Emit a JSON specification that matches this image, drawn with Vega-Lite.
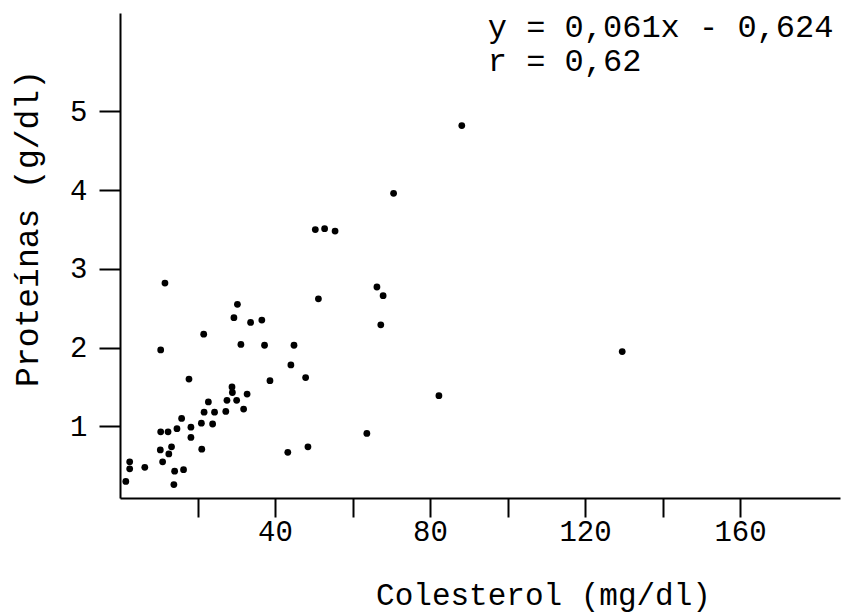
{
  "$schema": "https://vega.github.io/schema/vega-lite/v6.json",
  "width": 720,
  "height": 485,
  "autosize": {"type": "none"},
  "padding": {"left": 120, "top": 13, "right": 4, "bottom": 116},
  "background": "white",
  "config": {"view": {"stroke": null}, "font": "Liberation Mono"},
  "layer": [
    {
      "data": {
        "values": [
          {"colesterol": 11.6, "proteinas": 2.82},
          {"colesterol": 30.3, "proteinas": 2.55},
          {"colesterol": 50.4, "proteinas": 3.50},
          {"colesterol": 52.8, "proteinas": 3.51},
          {"colesterol": 55.5, "proteinas": 3.48},
          {"colesterol": 51.2, "proteinas": 2.62},
          {"colesterol": 88.2, "proteinas": 4.82},
          {"colesterol": 70.6, "proteinas": 3.96},
          {"colesterol": 66.3, "proteinas": 2.77},
          {"colesterol": 67.9, "proteinas": 2.66},
          {"colesterol": 29.4, "proteinas": 2.38},
          {"colesterol": 33.7, "proteinas": 2.32},
          {"colesterol": 36.6, "proteinas": 2.35},
          {"colesterol": 21.6, "proteinas": 2.17},
          {"colesterol": 10.5, "proteinas": 1.97},
          {"colesterol": 31.2, "proteinas": 2.04},
          {"colesterol": 37.3, "proteinas": 2.03},
          {"colesterol": 44.9, "proteinas": 2.03},
          {"colesterol": 44.1, "proteinas": 1.78},
          {"colesterol": 47.9, "proteinas": 1.62},
          {"colesterol": 17.8, "proteinas": 1.60},
          {"colesterol": 38.7, "proteinas": 1.58},
          {"colesterol": 28.9, "proteinas": 1.50},
          {"colesterol": 29.0, "proteinas": 1.43},
          {"colesterol": 32.8, "proteinas": 1.41},
          {"colesterol": 22.8, "proteinas": 1.31},
          {"colesterol": 27.6, "proteinas": 1.33},
          {"colesterol": 30.1, "proteinas": 1.33},
          {"colesterol": 31.9, "proteinas": 1.22},
          {"colesterol": 21.7, "proteinas": 1.18},
          {"colesterol": 24.4, "proteinas": 1.18},
          {"colesterol": 27.3, "proteinas": 1.19},
          {"colesterol": 15.9, "proteinas": 1.10},
          {"colesterol": 21.0, "proteinas": 1.04},
          {"colesterol": 23.9, "proteinas": 1.03},
          {"colesterol": 14.7, "proteinas": 0.97},
          {"colesterol": 18.3, "proteinas": 0.99},
          {"colesterol": 10.5, "proteinas": 0.93},
          {"colesterol": 12.4, "proteinas": 0.93},
          {"colesterol": 18.3, "proteinas": 0.86},
          {"colesterol": 13.3, "proteinas": 0.74},
          {"colesterol": 10.4, "proteinas": 0.70},
          {"colesterol": 21.1, "proteinas": 0.71},
          {"colesterol": 12.6, "proteinas": 0.65},
          {"colesterol": 11.0, "proteinas": 0.55},
          {"colesterol": 43.3, "proteinas": 0.67},
          {"colesterol": 48.5, "proteinas": 0.74},
          {"colesterol": 2.5, "proteinas": 0.55},
          {"colesterol": 2.5, "proteinas": 0.46},
          {"colesterol": 6.4, "proteinas": 0.48},
          {"colesterol": 14.1, "proteinas": 0.43},
          {"colesterol": 16.4, "proteinas": 0.45},
          {"colesterol": 1.5, "proteinas": 0.30},
          {"colesterol": 13.9, "proteinas": 0.26},
          {"colesterol": 67.3, "proteinas": 2.29},
          {"colesterol": 82.3, "proteinas": 1.39},
          {"colesterol": 63.7, "proteinas": 0.91},
          {"colesterol": 129.6, "proteinas": 1.95}
        ]
      },
      "mark": {"type": "circle", "color": "black", "opacity": 1, "size": 46},
      "encoding": {
        "x": {
          "field": "colesterol",
          "type": "quantitative",
          "scale": {"domain": [0, 185.8], "nice": false, "zero": false},
          "axis": {
            "title": "Colesterol (mg/dl)",
            "values": [20, 40, 60, 80, 100, 120, 140, 160],
            "format": "d",
            "labelExpr": "datum.value % 40 == 0 ? datum.label : ''",
            "grid": false,
            "domainColor": "black",
            "domainWidth": 2,
            "tickColor": "black",
            "tickWidth": 2,
            "tickSize": 19,
            "labelPadding": 0,
            "labelFont": "Liberation Mono",
            "labelFontSize": 29,
            "labelColor": "black",
            "labelFlush": false,
            "labelOverlap": false,
            "titleFont": "Liberation Mono",
            "titleFontSize": 31,
            "titleFontWeight": "normal",
            "titleColor": "black",
            "titleX": 423,
            "titleY": 106,
            "titleBaseline": "alphabetic",
            "titleAlign": "center"
          }
        },
        "y": {
          "field": "proteinas",
          "type": "quantitative",
          "scale": {"domain": [0.09, 6.25], "nice": false, "zero": false},
          "axis": {
            "title": "Proteínas (g/dl)",
            "values": [1, 2, 3, 4, 5],
            "format": "d",
            "grid": false,
            "domainColor": "black",
            "domainWidth": 2,
            "tickColor": "black",
            "tickWidth": 2,
            "tickSize": 21,
            "labelPadding": 12,
            "labelFont": "Liberation Mono",
            "labelFontSize": 29,
            "labelColor": "black",
            "labelFlush": false,
            "labelOverlap": false,
            "titleFont": "Liberation Mono",
            "titleFontSize": 33,
            "titleFontWeight": "normal",
            "titleColor": "black",
            "titleAngle": 270,
            "titleX": -83,
            "titleY": 215,
            "titleBaseline": "alphabetic",
            "titleAlign": "center"
          }
        }
      }
    },
    {
      "data": {
        "values": [
          {"texto": "y = 0,061x - 0,624", "colesterol": 94.9, "proteinas": 5.94},
          {"texto": "r = 0,62", "colesterol": 94.9, "proteinas": 5.51}
        ]
      },
      "mark": {"type": "text", "align": "left", "baseline": "alphabetic", "fontSize": 32, "font": "Liberation Mono", "color": "black"},
      "encoding": {
        "x": {"field": "colesterol", "type": "quantitative"},
        "y": {"field": "proteinas", "type": "quantitative"},
        "text": {"field": "texto"}
      }
    }
  ]
}
